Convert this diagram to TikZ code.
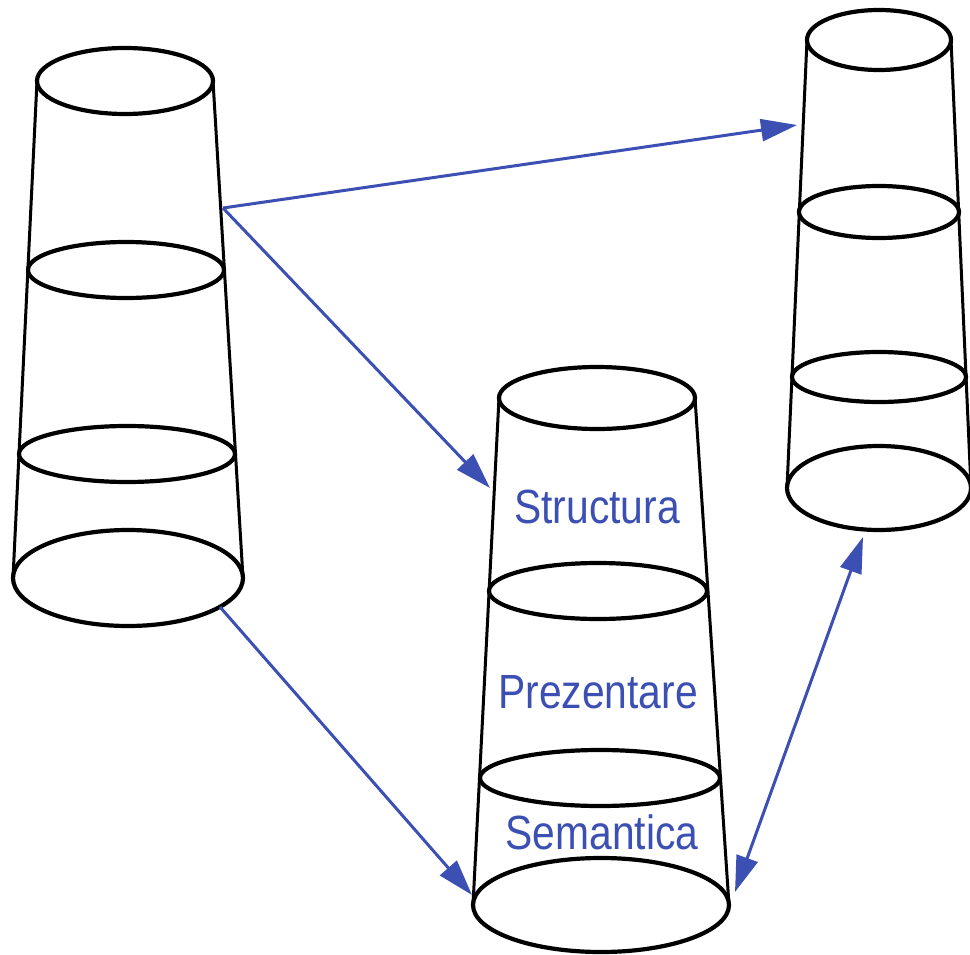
\documentclass[tikz,border=0pt]{standalone}
\usepackage{fontspec}
\setmainfont{Liberation Sans}
\usepackage{tikz}
\usetikzlibrary{arrows.meta}
\definecolor{layerblue}{RGB}{60,80,180}

\begin{document}
\begin{tikzpicture}[x=1pt,y=-1pt,
    rim/.style={line width=4.2pt},
    wall/.style={line width=3pt},
    link/.style={draw=layerblue,line width=3pt,-{Triangle[length=36pt,width=22pt]}},
    twoway/.style={link,{Triangle[length=36pt,width=22pt]}-{Triangle[length=36pt,width=22pt]}},
    layer/.style={text=layerblue,font=\fontsize{48}{48}\selectfont,xscale=0.85,transform shape}] % three layered cups
  \useasboundingbox (0,0) rectangle (970,955);
  % left cup
  \draw[wall] (37,81) -- (13,578) (213,81) -- (243,578);
  \draw[rim] (125,81) ellipse [x radius=88,y radius=33];
  \draw[rim] (126,270) ellipse [x radius=98,y radius=28];
  \draw[rim] (127,454) ellipse [x radius=108,y radius=28];
  \draw[rim] (128,578) ellipse [x radius=115,y radius=48];
  % middle cup
  \draw[wall] (499,398) -- (473,905) (695,398) -- (729,905);
  \draw[rim] (597,398) ellipse [x radius=98,y radius=31];
  \draw[rim] (598,591) ellipse [x radius=109,y radius=28];
  \draw[rim] (600,778) ellipse [x radius=120,y radius=28];
  \draw[rim] (601,905) ellipse [x radius=128,y radius=47];
  \node[layer] (structura) at (597,507) {Structura};
  \node[layer] (prezentare) at (598,692) {Prezentare};
  \node[layer] (semantica) at (602,832) {Semantica};
  % right cup
  \draw[wall] (807,40) -- (787,488) (951,40) -- (971,488);
  \draw[rim] (879,40) ellipse [x radius=72,y radius=30];
  \draw[rim] (879,212) ellipse [x radius=80,y radius=26];
  \draw[rim] (879,377) ellipse [x radius=87,y radius=25];
  \draw[rim] (879,488) ellipse [x radius=92,y radius=42];
  % arrows
  \coordinate (lcup-side) at (223,208);
  \coordinate (lcup-base) at (220,607);
  \coordinate (mcup-top) at (490,488);
  \coordinate (mcup-base) at (472,895);
  \coordinate (mcup-right) at (735,892);
  \coordinate (rcup-side) at (797,125);
  \coordinate (rcup-base) at (863,537);
  \draw[link] (lcup-side) -- (rcup-side);
  \draw[link] (lcup-side) -- (mcup-top);
  \draw[link] (lcup-base) -- (mcup-base);
  \draw[twoway] (mcup-right) -- (rcup-base);
\end{tikzpicture}
\end{document}
